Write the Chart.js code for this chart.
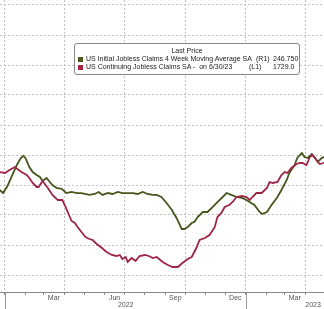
<!DOCTYPE html>
<html>
<head>
<meta charset="utf-8">
<script src="https://cdn.jsdelivr.net/npm/chart.js@4/dist/chart.umd.min.js"></script>
<style>
  html, body { margin: 0; padding: 0; background: #fff; }
  #wrap { position: relative; width: 324px; height: 309px; overflow: hidden; }
  #legend {
    position: absolute; left: 74px; top: 43px; width: 224px; height: 30px;
    border: 1px solid #858585; border-radius: 3px; background: #fff;
    font-family: "Liberation Sans", Arial, sans-serif; font-size: 7px; color: #222;
    line-height: 8px; white-space: pre;
  }
  #legend span { position: absolute; }
  #legend .sq { width: 5px; height: 5px; left: 3px; }
</style>
</head>
<body>
<div id="wrap">
  <canvas id="chart" width="324" height="309"></canvas>
  <div id="legend">
    <span style="left:0;right:0;top:3px;text-align:center">Last Price</span>
    <span class="sq" style="top:13px;background:#4b5a1e"></span>
    <span style="left:11px;top:11px">US Initial Jobless Claims 4 Week Moving Average SA</span>
    <span style="left:181px;top:11px">(R1)</span>
    <span style="left:198px;top:11px">246.750</span>
    <span class="sq" style="top:21px;background:#a8233f"></span>
    <span style="left:11px;top:19px">US Continuing Jobless Claims SA -  on 6/30/23</span>
    <span style="left:174px;top:19px">(L1)</span>
    <span style="left:198px;top:19px">1729.0</span>
  </div>
</div>
<script>
// US Initial Jobless Claims, 4 week moving average (thousands, right axis)
const initialDates = [
  '2021-12-24','2021-12-29','2022-01-04','2022-01-11','2022-01-19','2022-01-25','2022-01-29',
  '2022-02-01','2022-02-07','2022-02-12','2022-02-18','2022-02-23','2022-02-27','2022-03-05',
  '2022-03-10','2022-03-14','2022-03-20','2022-03-28','2022-04-04','2022-04-12','2022-04-20',
  '2022-04-27','2022-05-09','2022-05-17','2022-05-23','2022-05-29','2022-06-06','2022-06-13',
  '2022-06-21','2022-06-28','2022-07-06','2022-07-14','2022-07-21','2022-07-29','2022-08-05',
  '2022-08-13','2022-08-19','2022-08-26','2022-09-03','2022-09-11','2022-09-18','2022-09-26',
  '2022-09-30','2022-10-05','2022-10-11','2022-10-15','2022-10-20','2022-10-28','2022-11-04',
  '2022-11-12','2022-11-19','2022-11-27','2022-12-03','2022-12-10','2022-12-18','2022-12-26',
  '2023-01-02','2023-01-14','2023-01-22','2023-01-26','2023-02-02','2023-02-09','2023-02-17',
  '2023-02-24','2023-03-04','2023-03-08','2023-03-16','2023-03-20','2023-03-27','2023-03-31',
  '2023-04-05','2023-04-11','2023-04-15','2023-04-20','2023-04-26','2023-04-29','2023-05-05'
];
const initialValues = [
  220.8, 218.3, 223.3, 231.7, 241.7, 247.5, 249.2,
  247.5, 240.0, 235.8, 233.3, 231.7, 228.3, 230.8,
  227.5, 225.0, 222.5, 221.7, 218.3, 219.2, 218.3,
  218.3, 216.7, 217.5, 219.2, 216.7, 218.3, 217.5,
  219.2, 218.3, 218.3, 218.3, 217.5, 219.2, 217.5,
  216.7, 216.7, 215.0, 210.0, 204.2, 197.5, 188.3,
  188.3, 190.0, 193.3, 194.2, 198.3, 202.5, 202.5,
  206.7, 210.8, 215.0, 218.3, 216.7, 215.0, 214.2,
  212.5, 208.3, 202.5, 200.8, 202.5, 208.3, 214.2,
  220.8, 229.2, 235.0, 241.7, 247.5, 251.7, 248.3,
  247.5, 250.8, 248.3, 244.2, 247.5, 248.3, 250.0
];

// US Continuing Jobless Claims SA (thousands, left axis)
const continuingDates = [
  '2021-12-24','2022-01-01','2022-01-08','2022-01-16','2022-01-26','2022-02-03','2022-02-07',
  '2022-02-12','2022-02-18','2022-02-21','2022-02-27','2022-03-07','2022-03-14','2022-03-22',
  '2022-03-29','2022-04-03','2022-04-08','2022-04-12','2022-04-17','2022-04-21','2022-04-27',
  '2022-05-03','2022-05-09','2022-05-14','2022-05-20','2022-05-28','2022-06-04','2022-06-12',
  '2022-06-19','2022-06-24','2022-06-28','2022-07-03','2022-07-06','2022-07-12','2022-07-18',
  '2022-07-24','2022-08-01','2022-08-07','2022-08-13','2022-08-19','2022-08-28','2022-09-05',
  '2022-09-12','2022-09-20','2022-09-27','2022-10-05','2022-10-11','2022-10-18','2022-10-23',
  '2022-10-31','2022-11-07','2022-11-15','2022-11-19','2022-11-25','2022-11-30','2022-12-07',
  '2022-12-12','2022-12-18','2022-12-26','2023-01-02','2023-01-07','2023-01-11','2023-01-17',
  '2023-01-25','2023-02-02','2023-02-06','2023-02-11','2023-02-18','2023-02-24','2023-03-01',
  '2023-03-05','2023-03-11','2023-03-19','2023-03-24','2023-03-28','2023-04-03','2023-04-08',
  '2023-04-12','2023-04-18','2023-04-23','2023-04-29','2023-05-05'
];
const continuingValues = [
  1765, 1760, 1775, 1790, 1765, 1750, 1735,
  1710, 1690, 1690, 1720, 1685, 1650, 1625,
  1625, 1590, 1550, 1520, 1510, 1490, 1465,
  1440, 1430, 1425, 1405, 1385, 1365, 1350,
  1345, 1350, 1330, 1340, 1315, 1335, 1320,
  1345, 1350, 1345, 1335, 1340, 1315, 1300,
  1290, 1290, 1310, 1330, 1340, 1385, 1425,
  1435, 1450, 1490, 1540, 1560, 1590, 1600,
  1615, 1640, 1645, 1640, 1625, 1640, 1660,
  1660, 1685, 1715, 1710, 1715, 1750, 1765,
  1760, 1785, 1805, 1810, 1810, 1800, 1840,
  1850, 1825, 1805, 1810, 1815
];

// axis labels
const monthStarts = [
  '2022-01-01','2022-02-01','2022-03-01','2022-04-01','2022-05-01','2022-06-01','2022-07-01',
  '2022-08-01','2022-09-01','2022-10-01','2022-11-01','2022-12-01','2023-01-01','2023-02-01',
  '2023-03-01','2023-04-01'
];
const monthLabels = { '2022-03-01': 'Mar', '2022-06-01': 'Jun', '2022-09-01': 'Sep', '2022-12-01': 'Dec', '2023-03-01': 'Mar' };
const quarterStarts = ['2022-01-01','2022-04-01','2022-07-01','2022-10-01','2023-01-01','2023-04-01'];
const yearLabels = ['2022', '2023'];
const yearLabelDates = ['2022-07-03', '2023-04-13'];
const yearStarts = ['2022-01-01', '2023-01-01'];
const leftGrid = [1250, 1400, 1550, 1700, 1850, 2000, 2150, 2300, 2450, 2600];

const RED = '#9e2545';
const GREEN = '#46561c';
const FONT = '"Liberation Sans", Arial, sans-serif';

// days since 2022-01-01
function dayOf(s) {
  const [y, m, d] = s.split('-').map(Number);
  return (Date.UTC(y, m - 1, d) - Date.UTC(2022, 0, 1)) / 864e5;
}

const quarterDays = quarterStarts.map(dayOf);
const labelByDay = {};
Object.keys(monthLabels).forEach(k => { labelByDay[dayOf(k)] = monthLabels[k]; });

const X_MIN = -7.5, X_MAX = 483.5;

// solid separators between years, below the axis
const yearLines = {
  id: 'yearLines',
  afterDraw(chart) {
    const s = chart.scales.x;
    const ctx = chart.ctx;
    ctx.save();
    ctx.strokeStyle = '#9a9a9a';
    ctx.lineWidth = 1;
    yearStarts.forEach(d => {
      const px = Math.round(s.getPixelForValue(dayOf(d))) + 0.5;
      ctx.beginPath();
      ctx.moveTo(px, s.top);
      ctx.lineTo(px, chart.height);
      ctx.stroke();
    });
    ctx.restore();
  }
};

new Chart(document.getElementById('chart'), {
  type: 'line',
  data: {
    datasets: [
      {
        label: 'US Continuing Jobless Claims SA',
        data: continuingDates.map((d, i) => ({ x: dayOf(d), y: continuingValues[i] })),
        yAxisID: 'y',
        borderColor: RED,
        borderWidth: 1.8,
        pointRadius: 0,
        tension: 0
      },
      {
        label: 'US Initial Jobless Claims 4 Week Moving Average SA',
        data: initialDates.map((d, i) => ({ x: dayOf(d), y: initialValues[i] })),
        yAxisID: 'y1',
        borderColor: GREEN,
        borderWidth: 1.8,
        pointRadius: 0,
        tension: 0
      }
    ]
  },
  options: {
    responsive: false,
    animation: false,
    devicePixelRatio: 1,
    layout: { padding: 0 },
    plugins: { legend: { display: false }, tooltip: { enabled: false } },
    scales: {
      x: {
        type: 'linear',
        min: X_MIN,
        max: X_MAX,
        afterBuildTicks: s => { s.ticks = monthStarts.map(d => ({ value: dayOf(d) })); },
        ticks: {
          autoSkip: false,
          maxRotation: 0,
          minRotation: 0,
          labelOffset: 10,
          padding: 0,
          color: '#555',
          font: { family: FONT, size: 7, lineHeight: 1 },
          callback: v => labelByDay[v] || ''
        },
        grid: {
          color: ctx => (ctx.tick && quarterDays.includes(ctx.tick.value)) ? '#c2c2c2' : 'rgba(0,0,0,0)',
          tickColor: '#888',
          tickLength: 3,
          lineWidth: 1
        },
        border: { display: true, color: '#8a8a8a', width: 1, dash: [2, 2] }
      },
      x2: {
        type: 'linear',
        axis: 'x',
        position: 'bottom',
        min: X_MIN,
        max: X_MAX,
        afterBuildTicks: s => { s.ticks = yearLabelDates.map(d => ({ value: dayOf(d) })); },
        ticks: {
          autoSkip: false,
          maxRotation: 0,
          padding: 0,
          color: '#555',
          font: { family: FONT, size: 7, lineHeight: 1 },
          callback: (v, i) => yearLabels[i]
        },
        grid: { display: false, drawTicks: false },
        border: { display: false }
      },
      y: {
        position: 'left',
        min: 1165,
        max: 2625,
        afterBuildTicks: s => { s.ticks = leftGrid.map(v => ({ value: v })); },
        ticks: { display: false },
        grid: { color: '#c2c2c2', drawTicks: false, lineWidth: 1 },
        border: { display: false, dash: [2, 2] }
      },
      y1: {
        position: 'right',
        min: 135.8,
        max: 379.2,
        ticks: { display: false },
        grid: { display: false, drawTicks: false },
        border: { display: false }
      }
    }
  },
  plugins: [yearLines]
});
</script>
</body>
</html>
